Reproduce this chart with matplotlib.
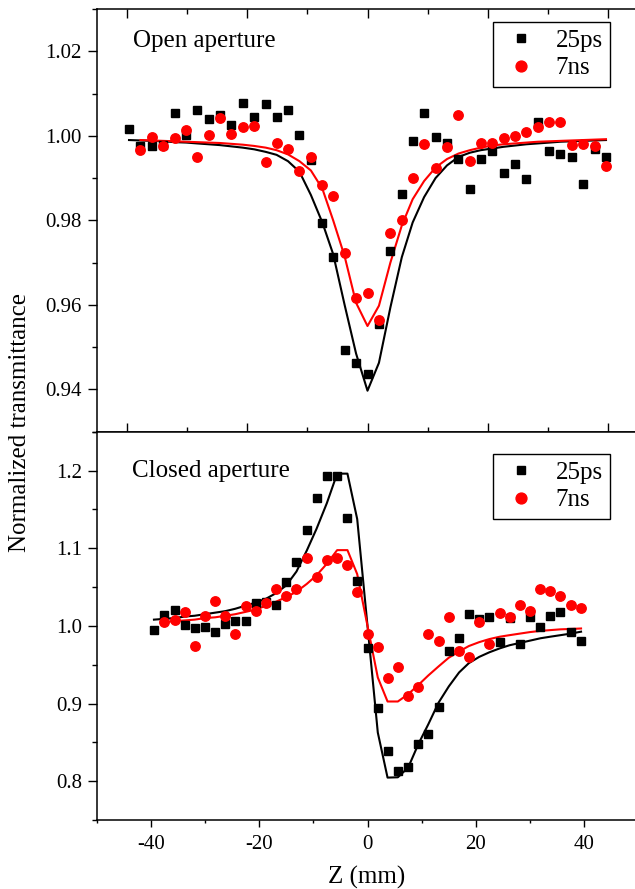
import matplotlib
matplotlib.use("Agg")
import matplotlib.pyplot as plt
from matplotlib.ticker import MultipleLocator, FormatStrFormatter, NullFormatter

plt.rcParams['font.family'] = ['Liberation Serif', 'DejaVu Serif']
plt.rcParams['axes.unicode_minus'] = False

# ---- open aperture (top panel) ----
z_open = [-39.6, -37.7, -35.8, -33.9, -32.0, -30.1, -28.3, -26.4, -24.5, -22.6, -20.7,
          -18.8, -16.9, -15.1, -13.2, -11.3, -9.4, -7.5, -5.7, -3.8, -1.9, 0.0,
          1.9, 3.8, 5.7, 7.5, 9.4, 11.3, 13.2, 15.1, 17.0, 18.8, 20.7, 22.6,
          24.5, 26.4, 28.3, 30.2, 32.0, 33.9, 35.8, 37.7, 39.6]
open_ps = [1.0016, 0.9976, 0.9976, 0.9978, 1.0055, 1.0001, 1.0062, 1.0040, 1.0050, 1.0025, 1.0078,
           1.0044, 1.0075, 1.0045, 1.0062, 1.0002, 0.9943, 0.9794, 0.9713, 0.9493, 0.9463, 0.9437,
           0.9555, 0.9727, 0.9862, 0.9987, 1.0055, 0.9998, 0.9983, 0.9944, 0.9875, 0.9944, 0.9963, 0.9913,
           0.9933, 0.9898, 1.0032, 0.9963, 0.9956, 0.9949, 0.9887, 0.9969, 0.9951]
open_ns = [0.9967, 0.9998, 0.9977, 0.9996, 1.0014, 0.9951, 1.0002, 1.0041, 1.0005, 1.0020,
           1.0024, 0.9937, 0.9984, 0.9969, 0.9917, 0.9951, 0.9883, 0.9857, 0.9723, 0.9617, 0.9627,
           0.9564, 0.9771, 0.9802, 0.9901, 0.9981, 0.9925, 0.9973, 1.0050, 0.9941, 0.9984, 0.9983, 0.9994,
           1.0000, 1.0010, 1.0020, 1.0033, 1.0033, 0.9979, 0.9981, 0.9976, 0.9929]
open_ps_fit = [0.9990, 0.9989, 0.9988, 0.9987, 0.9985, 0.9984, 0.9982, 0.9980, 0.9978, 0.9975, 0.9972,
               0.9968, 0.9962, 0.9955, 0.9940, 0.9915, 0.9860, 0.9795, 0.9720, 0.9600, 0.9485, 0.9397,
               0.9463, 0.9594, 0.9713, 0.9795, 0.9855, 0.9900, 0.9930, 0.9950, 0.9960, 0.9966, 0.9970, 0.9974,
               0.9977, 0.9980, 0.9982, 0.9984, 0.9986, 0.9987, 0.9988, 0.9989, 0.9990]
open_ns_fit = [0.9990, 0.9989, 0.9988, 0.9987, 0.9986, 0.9985, 0.9984, 0.9983, 0.9981, 0.9979,
               0.9976, 0.9972, 0.9966, 0.9956, 0.9940, 0.9918, 0.9875, 0.9800, 0.9715, 0.9605, 0.9550,
               0.9598, 0.9700, 0.9788, 0.9850, 0.9893, 0.9925, 0.9945, 0.9958, 0.9966, 0.9972, 0.9977, 0.9980,
               0.9982, 0.9984, 0.9986, 0.9987, 0.9988, 0.9989, 0.9990, 0.9991, 0.9992]

# ---- closed aperture (bottom panel) ----
z_closed = [-39.4, -37.5, -35.6, -33.7, -31.9, -30.0, -28.1, -26.2, -24.4, -22.5, -20.6,
            -18.7, -16.9, -15.0, -13.1, -11.2, -9.4, -7.5, -5.6, -3.7, -1.9, 0.0,
            1.9, 3.7, 5.6, 7.5, 9.4, 11.2, 13.1, 15.0, 16.9, 18.7, 20.6, 22.5,
            24.4, 26.2, 28.1, 30.0, 31.9, 33.7, 35.6, 37.5, 39.4]
closed_ps = [0.9945, 1.0138, 1.0201, 1.0009, 0.9974, 0.9983, 0.9923, 1.0022, 1.0064, 1.0064, 1.0289,
             1.0309, 1.0267, 1.0559, 1.0817, 1.1237, 1.1646, 1.1925, 1.1925, 1.1388, 1.0580, 0.9720,
             0.8948, 0.8390, 0.8132, 0.8183, 0.8485, 0.8613, 0.8961, 0.9674, 0.9845, 1.0151, 1.0086, 1.0120,
             0.9794, 1.0095, 0.9764, 1.0108, 0.9979, 1.0129, 1.0180, 0.9923, 0.9800]
closed_ns = [1.0044, 1.0077, 1.0180, 0.9735, 1.0121, 1.0314, 1.0129, 0.9900, 1.0258, 1.0190,
             1.0300, 1.0470, 1.0387, 1.0470, 1.0880, 1.0630, 1.0845, 1.0868, 1.0780, 1.0430, 0.9893,
             0.9730, 0.9330, 0.9464, 0.9100, 0.9214, 0.9900, 0.9800, 1.0120, 0.9675, 0.9605, 1.0044, 0.9770,
             1.0160, 1.0120, 1.0270, 1.0193, 1.0470, 1.0450, 1.0387, 1.0270, 1.0224]
closed_ps_fit = [1.008, 1.009, 1.010, 1.012, 1.013, 1.015, 1.017, 1.019, 1.022, 1.026, 1.030,
                 1.035, 1.042, 1.052, 1.070, 1.097, 1.125, 1.158, 1.196, 1.196, 1.1375, 1.000,
                 0.8626, 0.8046, 0.8050, 0.8175, 0.848, 0.873, 0.901, 0.922, 0.940, 0.952, 0.960, 0.966,
                 0.971, 0.975, 0.978, 0.981, 0.984, 0.986, 0.988, 0.990, 0.9925]
closed_ns_fit = [1.005, 1.006, 1.007, 1.008, 1.010, 1.011, 1.013, 1.015, 1.018, 1.021,
                 1.026, 1.031, 1.037, 1.044, 1.054, 1.065, 1.080, 1.0975, 1.0975, 1.0666, 1.000,
                 0.9335, 0.9026, 0.9026, 0.912, 0.924, 0.936, 0.9477, 0.959, 0.967, 0.974, 0.979, 0.983,
                 0.986, 0.988, 0.990, 0.992, 0.9935, 0.9945, 0.9955, 0.996, 0.9966]

labels = ['25ps', '7ns']
W, H = 635, 889

fig = plt.figure(figsize=(W / 100, H / 100), dpi=100)
left, right = 96.5, 638.5
ax1 = fig.add_axes([left / W, 1 - 431.7 / H, (right - left) / W, (431.7 - 9) / H])
ax2 = fig.add_axes([left / W, 1 - 820 / H, (right - left) / W, (820 - 431.7) / H])


def draw(ax, z, ps, ns, ps_fit, ns_fit):
    ax.plot(z, ps_fit, color='black', lw=1.5)
    ax.plot(z[1:], ns_fit, color='red', lw=1.5)
    ax.plot(z, ps, 's', color='black', ms=5.6, ls='none', label=labels[0])
    ax.plot(z[1:], ns, 'o', color='red', ms=6.8, ls='none', label=labels[1])


draw(ax1, z_open, open_ps, open_ns, open_ps_fit, open_ns_fit)
draw(ax2, z_closed, closed_ps, closed_ns, closed_ps_fit, closed_ns_fit)

# top panel axes
ax1.set_xlim(-45, 45)
ax1.set_ylim(0.93, 1.03)
ax1.xaxis.set_major_locator(MultipleLocator(20))
ax1.xaxis.set_minor_locator(MultipleLocator(10))
ax1.xaxis.set_major_formatter(NullFormatter())
ax1.yaxis.set_major_locator(MultipleLocator(0.02))
ax1.yaxis.set_minor_locator(MultipleLocator(0.01))
ax1.yaxis.set_major_formatter(FormatStrFormatter('%.2f'))
ax1.tick_params(axis='x', which='both', direction='in', top=True, bottom=True, width=1)
ax1.tick_params(axis='x', which='major', length=6.5)
ax1.tick_params(axis='x', which='minor', length=3.3)
ax1.tick_params(axis='y', which='both', direction='out', width=1, labelsize=15, pad=4)
ax1.tick_params(axis='y', which='major', length=6.5)
ax1.tick_params(axis='y', which='minor', length=3.6)

# bottom panel axes
ax2.set_xlim(-50, 50)
ax2.set_ylim(0.75, 1.25)
ax2.xaxis.set_major_locator(MultipleLocator(20))
ax2.xaxis.set_minor_locator(MultipleLocator(10))
ax2.yaxis.set_major_locator(MultipleLocator(0.1))
ax2.yaxis.set_minor_locator(MultipleLocator(0.05))
ax2.yaxis.set_major_formatter(FormatStrFormatter('%.1f'))
ax2.xaxis.set_major_formatter(FormatStrFormatter('%d'))
ax2.tick_params(axis='x', which='both', direction='out', width=1, labelsize=15, pad=6)
ax2.tick_params(axis='x', which='major', length=5)
ax2.tick_params(axis='x', which='minor', length=2.5)
ax2.tick_params(axis='y', which='both', direction='out', width=1, labelsize=15, pad=4)
ax2.tick_params(axis='y', which='major', length=6.5)
ax2.tick_params(axis='y', which='minor', length=3.6)

for ax in (ax1, ax2):
    for sp in ax.spines.values():
        sp.set_linewidth(1.1)

ax1.text(132.7 / W, 1 - 41 / H, 'Open aperture', transform=fig.transFigure,
         fontsize=18, va='center', ha='left')
ax2.text(131.7 / W, 1 - 471 / H, 'Closed aperture', transform=fig.transFigure,
         fontsize=18, va='center', ha='left')

for ax, top in ((ax1, 22), (ax2, 454)):
    leg = ax.legend(loc='upper left', bbox_to_anchor=(493 / W, 1 - top / H),
                    bbox_transform=fig.transFigure, fontsize=18, frameon=True,
                    fancybox=False, edgecolor='black', framealpha=1, borderaxespad=0,
                    borderpad=0.3, handlelength=1.6, handletextpad=0.6, labelspacing=0.2,
                    numpoints=1, markerscale=1.15)
    leg.get_frame().set_linewidth(1.0)

fig.text(20 / W, 1 - 423 / H, 'Normalized transmittance', rotation=90,
         fontsize=18, ha='center', va='center')
fig.text(366.5 / W, 1 - 877 / H, 'Z (mm)', fontsize=18, ha='center', va='center')

fig.savefig('out.png', dpi=100)
